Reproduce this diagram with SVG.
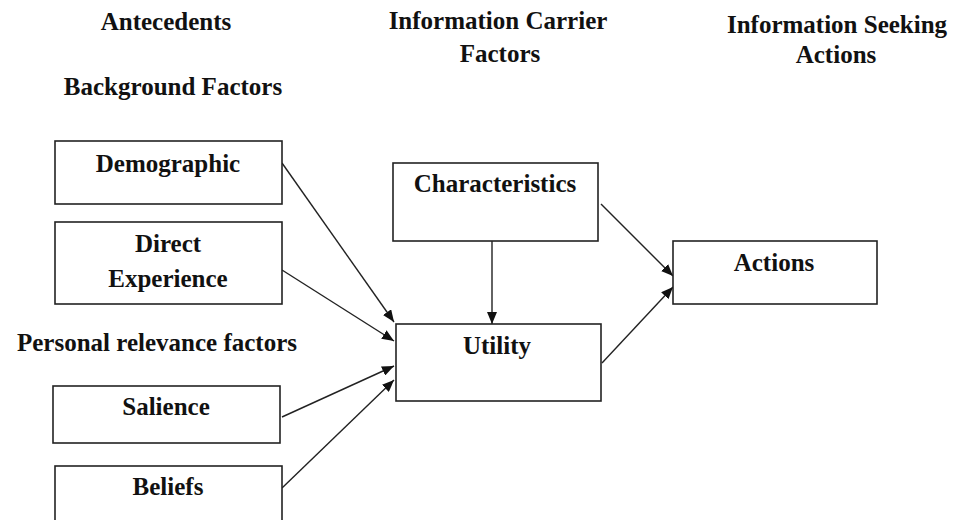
<svg xmlns="http://www.w3.org/2000/svg" width="958" height="520" viewBox="0 0 958 520" font-family="Liberation Serif, DejaVu Serif, serif">
<style>
text{font-weight:bold;font-size:25px;fill:#111;text-anchor:middle}
.box{fill:#fff;stroke:#222;stroke-width:1.6}
.ln{stroke:#222;stroke-width:1.4;fill:none;marker-end:url(#ah)}
</style>
<defs>
<marker id="ah" viewBox="0 0 12 10" refX="12" refY="5" markerWidth="12" markerHeight="10" markerUnits="userSpaceOnUse" orient="auto">
<path d="M0,0 L12,5 L0,10 Z" fill="#111"/>
</marker>
</defs>
<g id="headers">
<text x="166" y="30">Antecedents</text>
<text x="498" y="29">Information Carrier</text>
<text x="500" y="62">Factors</text>
<text x="837" y="33">Information Seeking</text>
<text x="836" y="63">Actions</text>
<text x="173" y="95">Background Factors</text>
<text x="157" y="351">Personal relevance factors</text>
</g>
<g id="connectors">
<line class="ln" x1="282" y1="163" x2="394" y2="322"/>
<line class="ln" x1="282" y1="270" x2="394" y2="341"/>
<line class="ln" x1="282" y1="417" x2="394" y2="366"/>
<line class="ln" x1="282" y1="488" x2="394" y2="380"/>
<line class="ln" x1="492" y1="241" x2="492" y2="324"/>
<line class="ln" x1="601" y1="204" x2="673" y2="276"/>
<line class="ln" x1="602" y1="363" x2="673" y2="287"/>
</g>
<g id="demographic"><rect class="box" x="55" y="141" width="227" height="63"/><text x="168" y="172">Demographic</text></g>
<g id="direct-experience"><rect class="box" x="55" y="222" width="227" height="82"/><text x="168" y="252">Direct</text><text x="168" y="287">Experience</text></g>
<g id="salience"><rect class="box" x="53" y="386" width="227" height="57"/><text x="166" y="415">Salience</text></g>
<g id="beliefs"><rect class="box" x="55" y="466" width="227" height="70"/><text x="168" y="495">Beliefs</text></g>
<g id="characteristics"><rect class="box" x="393" y="163" width="205" height="78"/><text x="495" y="192">Characteristics</text></g>
<g id="utility"><rect class="box" x="396" y="324" width="205" height="77"/><text x="497" y="354">Utility</text></g>
<g id="actions"><rect class="box" x="673" y="241" width="204" height="63"/><text x="774" y="271">Actions</text></g>
</svg>
